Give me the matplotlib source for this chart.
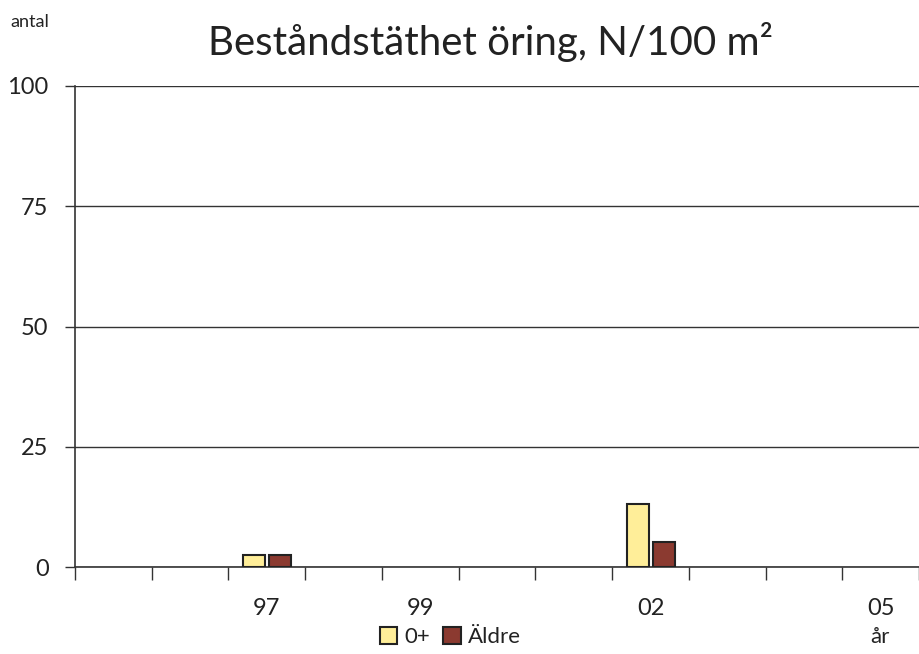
import numpy as np
import matplotlib.pyplot as plt
from matplotlib.patches import Patch

# data
years = ['95', '96', '97', '98', '99', '00', '01', '02', '03', '04', '05']
year_labels = ['', '', '97', '', '99', '', '', '02', '', '', '05']
fish_young = [0, 0, 2.5, 0, 0, 0, 0, 13.0, 0, 0, 0]   # 0+
fish_old = [0, 0, 2.5, 0, 0, 0, 0, 5.2, 0, 0, 0]      # Äldre

col_young = '#FFEE99'
col_old = '#8B3A30'
edge = '#222222'

plt.rcParams['font.family'] = ['Lato', 'DejaVu Sans']

fig = plt.figure(figsize=(9.19, 6.54), dpi=100)
ax = fig.add_axes([75/919, 87/654, 1 - 75/919, 481/654])

x = np.arange(len(years))
w = 0.285
young = np.array(fish_young)
old = np.array(fish_old)
ax.bar(x[young > 0] - 0.165, young[young > 0], width=w, color=col_young,
       edgecolor=edge, linewidth=1.5, zorder=3)
ax.bar(x[old > 0] + 0.175, old[old > 0], width=w, color=col_old,
       edgecolor=edge, linewidth=1.5, zorder=3)

ax.set_xlim(-0.5, len(years) - 0.5)
ax.set_ylim(0, 100)
ax.set_yticks([0, 25, 50, 75, 100])
ax.yaxis.grid(True, color='#333333', linewidth=1.0)
ax.set_axisbelow(True)

# ticks between categories, labels in the middle
ax.set_xticks(np.arange(-0.5, len(years) + 0.5, 1))
ax.set_xticklabels([])
ax.set_xticks(x, minor=True)
ax.set_xticklabels(year_labels, minor=True)
ax.tick_params(axis='x', which='major', length=9, width=1, direction='out', color='#333333')
ax.tick_params(axis='x', which='minor', length=0, pad=22, labelsize=17, labelcolor='#222222')
ax.tick_params(axis='y', length=7, width=1, direction='out', labelsize=17, pad=12,
               labelcolor='#222222', color='#333333')

for s in ['top', 'right']:
    ax.spines[s].set_visible(False)
for s in ['left', 'bottom']:
    ax.spines[s].set_color('#333333')
    ax.spines[s].set_linewidth(1.2)

fig.text(490/919, 1 - 42/654, 'Beståndstäthet öring, N/100 m²', ha='center', va='center',
         fontsize=29, color='#222222')
fig.text(10/919, 1 - 22/654, 'antal', ha='left', va='center', fontsize=13, color='#222222')
fig.text(880/919, 1 - 637/654, 'år', ha='center', va='center', fontsize=16, color='#222222')

handles = [Patch(facecolor=col_young, edgecolor=edge, linewidth=1.5, label='0+'),
           Patch(facecolor=col_old, edgecolor=edge, linewidth=1.5, label='Äldre')]
fig.legend(handles=handles, loc='center', bbox_to_anchor=(450/919, 1 - 637/654),
           ncol=2, frameon=False, fontsize=16, handlelength=0.8, handleheight=0.8,
           handletextpad=0.3, columnspacing=0.6, labelcolor='#222222')

fig.savefig('out.png', dpi=100)
